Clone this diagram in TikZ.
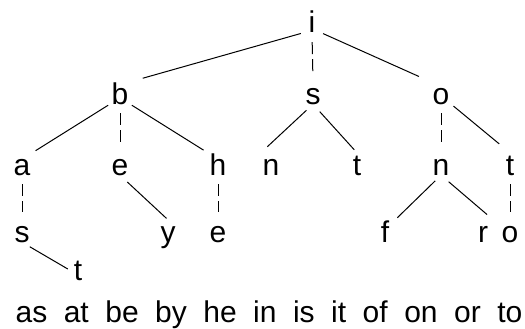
\documentclass[tikz,border=0pt]{standalone}
\usepackage{fontspec}
\setmainfont{Liberation Sans}
\newcommand{\trieSize}{\fontsize{30}{36}\selectfont}
\newcommand{\wordFont}{\trieSize\spaceskip=16.5pt\relax}
\tikzset{
  x=1pt, y=-1pt,
  letter/.style={font=\trieSize, anchor=base, inner sep=0pt,
                 minimum width=20pt, text height=22pt, text depth=0pt},
  link/.style={draw=black, line width=1pt},
  mid/.style={link, dash pattern=on 12pt off 5pt, shorten <=9pt, shorten >=8pt},
  words/.style={font=\wordFont, anchor=base, inner sep=0pt},
}
\begin{document}
\begin{tikzpicture}
  \fill[white] (0,0) rectangle (525,329);
  \useasboundingbox (0,0) rectangle (525,329);
  \foreach \nm/\px/\py/\ch in {i/312/33/i, b/120/104/b, s/313/104/s, o/441/104/o,
                               a/22/175/a, e/120/175/e, h/218/175/h, sn/271/175/n,
                               st/357/175/t, on/441/175/n, ot/510/175/t,
                               as/22/242/s, ey/168/242/y, he/218/242/e,
                               onf/385/242/f, onr/483/242/r, oto/510/242/o,
                               ast/78/280/t}{
    \node[letter] (\nm) at (\px,\py) {\ch};
  }
  \foreach \from/\to/\sa/\sb in {i.south west/b.north east/1/13,
                                 i.south east/o.north west/1/13,
                                 b.south west/a.north east/2/4,
                                 b.south east/h.north west/2/5,
                                 s.south/sn.north west/9/9,
                                 s.south/st.north/10/4,
                                 o.south east/ot.north/3/14,
                                 e.south/ey.north/10/2,
                                 on.south/onf.north east/8/3,
                                 on.south/onr.north east/10/8,
                                 as.south/ast.west/9/0}{
    \draw[link, shorten <=\sa pt, shorten >=\sb pt] (\from) -- (\to);
  }
  \foreach \from/\to in {i/s, b/e, o/on, a/as, h/he, ot/oto}{
    \draw[mid] (\from.south) -- (\to.north);
  }
  \node[words] (list) at (269,322) {as at be by he in is it of on or to};
\end{tikzpicture}
\end{document}
